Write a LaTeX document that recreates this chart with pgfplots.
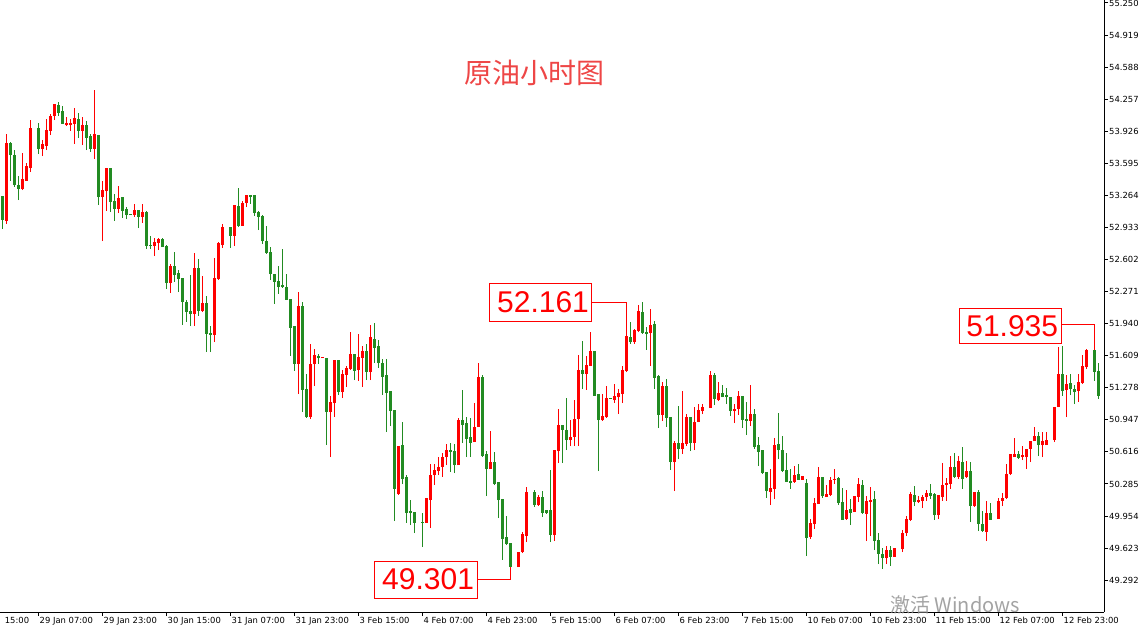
\documentclass[border=0pt]{standalone}
\usepackage{pgfplots}
\pgfplotsset{compat=1.18}
\usepackage{pgfplotstable}
\usepackage{fontspec}
\newfontfamily\tickfont{DejaVu Sans}
\newfontfamily\arial{Liberation Sans}
\newfontfamily\cjk{Noto Sans CJK SC}
\definecolor{upred}{RGB}{255,0,0}
\definecolor{dngreen}{RGB}{34,139,34}
\definecolor{titlered}{RGB}{238,70,70}

\pgfplotstableread{
x o h l c
0 53.257 53.257 52.917 53.010
1 53.003 53.898 52.969 53.805
2 53.805 53.815 53.413 53.680
3 53.680 53.732 53.351 53.371
4 53.371 53.464 53.216 53.330
5 53.330 53.701 53.319 53.433
6 53.413 53.598 53.413 53.567
7 53.546 54.042 53.505 53.959
9 53.959 54.011 53.691 53.743
10 53.743 53.836 53.670 53.795
11 53.774 54.052 53.732 53.939
12 53.929 54.104 53.887 54.083
13 54.083 54.208 54.042 54.208
14 54.197 54.228 54.083 54.114
15 54.135 54.187 54.001 54.001
16 53.990 54.073 53.980 54.011
17 53.990 54.052 53.929 54.011
18 54.001 54.166 53.795 54.062
19 54.052 54.114 53.857 53.929
20 53.929 54.073 53.784 53.990
21 53.990 54.032 53.732 53.857
22 53.877 53.898 53.712 53.743
23 53.743 54.352 53.639 53.898
24 53.887 53.887 53.164 53.247
25 53.247 53.413 52.793 53.319
26 53.309 53.546 53.103 53.546
27 53.546 53.546 53.092 53.195
28 53.206 53.278 53.000 53.123
29 53.123 53.361 53.082 53.237
30 53.247 53.247 53.031 53.103
31 53.123 53.144 53.020 53.061
32 53.072 53.072 53.061 53.061
33 53.061 53.175 53.041 53.113
34 53.113 53.113 52.927 53.041
35 53.041 53.175 52.979 53.092
36 53.092 53.103 52.710 52.741
37 52.751 52.845 52.710 52.741
38 52.741 52.824 52.638 52.783
39 52.772 52.824 52.700 52.814
40 52.814 52.824 52.731 52.731
41 52.741 52.751 52.297 52.359
42 52.359 52.556 52.256 52.535
43 52.535 52.680 52.370 52.442
44 52.463 52.494 52.266 52.401
45 52.411 52.411 51.926 52.163
46 52.163 52.184 51.957 52.060
47 52.070 52.442 51.915 52.039
48 52.039 52.669 51.915 52.514
49 52.514 52.607 52.019 52.070
50 52.070 52.432 52.060 52.153
51 52.153 52.225 51.647 51.833
52 51.843 51.915 51.647 51.823
53 51.823 52.617 51.750 52.411
54 52.401 52.783 52.390 52.772
55 52.751 52.969 52.721 52.937
57 52.937 52.937 52.721 52.845
58 52.845 53.164 52.741 53.164
59 53.154 53.340 52.937 52.948
60 52.948 53.206 52.948 53.185
61 53.185 53.268 53.144 53.268
62 53.268 53.268 53.175 53.247
63 53.268 53.268 53.051 53.082
64 53.092 53.103 52.906 53.041
65 53.051 53.061 52.762 52.793
66 52.793 52.948 52.659 52.669
67 52.680 52.731 52.390 52.452
68 52.452 52.452 52.143 52.370
69 52.380 52.535 52.246 52.318
70 52.339 52.710 52.308 52.318
71 52.318 52.452 52.184 52.184
72 52.194 52.194 51.606 51.895
73 51.915 51.915 51.451 51.523
74 51.523 52.266 51.213 52.122
75 52.122 52.163 51.027 51.255
76 51.265 51.420 50.966 50.976
77 50.976 51.730 50.955 51.523
78 51.523 51.678 51.296 51.616
79 51.606 51.626 51.523 51.585
80 51.585 51.595 51.585 51.595
81 51.585 51.585 50.687 51.027
82 51.027 51.193 50.563 51.131
83 51.120 51.564 50.976 51.564
84 51.564 51.564 51.203 51.234
85 51.234 51.461 51.172 51.420
86 51.410 51.502 51.286 51.482
87 51.471 51.853 51.461 51.626
88 51.626 51.626 51.358 51.451
89 51.461 51.833 51.348 51.595
90 51.585 51.709 51.286 51.657
91 51.657 51.730 51.358 51.440
92 51.440 51.926 51.358 51.802
93 51.781 51.946 51.533 51.688
94 51.709 51.771 51.482 51.533
95 51.533 51.575 51.203 51.389
96 51.410 51.575 50.821 51.224
97 51.244 51.244 50.883 51.038
98 51.048 51.048 49.902 50.233
99 50.181 50.677 50.171 50.677
100 50.687 50.924 50.284 50.336
101 50.357 50.377 49.882 49.985
102 50.006 50.119 49.861 49.985
103 49.995 49.995 49.778 49.882
105 49.892 49.985 49.634 49.882
106 49.882 50.140 49.882 50.140
107 50.119 50.491 49.830 50.377
108 50.377 50.491 50.274 50.429
109 50.418 50.563 50.377 50.460
110 50.460 50.604 50.357 50.563
111 50.563 50.697 50.480 50.635
112 50.635 50.707 50.408 50.615
113 50.625 50.697 50.398 50.480
114 50.480 50.966 50.480 50.945
115 50.945 51.255 50.707 50.893
116 50.914 50.976 50.563 50.749
117 50.769 50.966 50.563 50.707
118 50.718 51.120 50.718 50.873
119 50.873 51.533 50.873 51.389
120 51.389 51.410 50.563 50.573
121 50.594 50.625 50.160 50.439
122 50.439 50.831 50.439 50.511
123 50.511 50.615 50.274 50.284
124 50.305 50.305 49.933 50.119
125 50.129 50.129 49.500 49.716
126 49.737 49.954 49.654 49.665
127 49.675 49.675 49.301 49.427
129 49.427 49.582 49.427 49.582
130 49.582 49.789 49.572 49.768
131 49.747 50.253 49.685 50.202
133 50.202 50.222 50.047 50.067
134 50.067 50.171 50.057 50.150
135 50.150 50.212 49.943 49.985
136 50.016 50.016 49.975 49.985
137 50.016 50.429 49.685 49.758
138 49.758 50.635 49.696 50.635
139 50.625 51.058 50.501 50.893
140 50.893 50.893 50.501 50.842
141 50.842 51.172 50.635 50.738
142 50.738 50.945 50.676 50.769
143 50.769 51.151 50.676 50.955
144 50.955 51.616 50.676 51.461
145 51.461 51.761 51.265 51.420
146 51.420 51.606 51.255 51.513
147 51.502 51.853 51.502 51.657
148 51.657 51.657 51.193 51.193
149 51.213 51.213 50.418 50.945
150 50.945 51.213 50.935 50.986
151 50.976 51.296 50.966 51.172
152 51.172 51.172 51.162 51.162
153 51.151 51.317 51.120 51.193
154 51.182 51.265 51.007 51.224
155 51.213 51.502 51.120 51.461
156 51.451 51.812 51.440 51.812
157 51.802 51.957 51.730 51.750
158 51.750 51.884 51.730 51.874
159 51.864 52.132 51.853 52.070
160 52.060 52.161 51.833 51.843
161 51.853 51.905 51.668 51.833
162 51.843 52.091 51.502 51.926
163 51.936 51.967 51.265 51.379
164 51.399 51.410 50.862 50.997
165 50.997 51.337 50.935 51.296
166 51.296 51.368 50.873 50.966
167 50.976 50.976 50.429 50.511
168 50.511 50.728 50.212 50.707
169 50.707 51.089 50.542 50.646
170 50.646 51.244 50.594 50.707
171 50.697 51.007 50.677 50.976
172 50.976 50.976 50.625 50.707
173 50.707 51.079 50.635 50.924
174 50.924 51.110 50.924 51.048
175 51.038 51.110 51.007 51.079
177 51.069 51.451 51.069 51.410
178 51.410 51.430 51.100 51.162
179 51.151 51.337 51.141 51.224
180 51.224 51.306 51.182 51.182
181 51.203 51.275 51.110 51.182
182 51.182 51.182 50.986 51.038
183 51.038 51.110 50.914 51.058
184 51.058 51.244 50.997 51.193
185 51.193 51.193 50.862 50.945
186 50.955 51.131 50.790 50.935
187 50.935 51.306 50.883 51.007
188 51.007 51.058 50.646 50.666
189 50.687 50.769 50.470 50.615
190 50.635 50.635 50.387 50.398
191 50.408 50.408 50.140 50.212
192 50.202 50.439 50.067 50.243
193 50.233 50.759 50.129 50.687
194 50.697 51.017 50.542 50.635
195 50.635 50.780 50.408 50.418
196 50.429 50.604 50.305 50.305
197 50.315 50.439 50.233 50.295
198 50.305 50.470 50.295 50.377
199 50.387 50.491 50.326 50.326
200 50.326 50.367 50.326 50.367
201 50.295 50.336 49.541 49.727
202 49.737 49.923 49.716 49.882
203 49.871 50.140 49.820 50.088
204 50.078 50.460 50.078 50.357
205 50.357 50.357 50.140 50.160
206 50.150 50.274 50.150 50.181
207 50.171 50.357 50.160 50.326
208 50.326 50.439 50.284 50.336
209 50.346 50.357 50.067 50.088
210 50.098 50.243 49.913 49.913
211 49.923 50.222 49.913 50.016
212 50.026 50.129 49.861 49.985
213 49.995 50.160 49.995 50.160
214 50.150 50.346 50.098 50.284
215 50.274 50.326 49.975 49.985
216 49.975 50.160 49.696 50.109
217 50.098 50.253 49.747 50.119
218 50.129 50.212 49.603 49.696
219 49.706 49.778 49.458 49.562
220 49.562 49.623 49.407 49.520
221 49.520 49.644 49.458 49.603
222 49.603 49.644 49.438 49.531
223 49.531 49.623 49.531 49.623
225 49.613 49.809 49.582 49.778
226 49.778 49.954 49.747 49.923
227 49.913 50.202 49.902 50.181
228 50.171 50.264 50.057 50.098
229 50.098 50.160 50.088 50.119
230 50.109 50.171 50.036 50.150
231 50.150 50.222 50.109 50.191
232 50.191 50.284 50.129 50.160
233 50.181 50.191 49.913 49.964
234 49.964 50.171 49.923 50.171
235 50.150 50.501 50.109 50.274
236 50.274 50.346 50.109 50.295
237 50.284 50.573 50.233 50.460
238 50.460 50.604 50.346 50.357
239 50.357 50.573 50.336 50.522
240 50.511 50.666 50.233 50.336
241 50.357 50.522 50.346 50.418
242 50.418 50.511 49.892 50.057
243 50.057 50.202 50.047 50.202
244 50.202 50.222 49.799 49.871
245 49.871 50.006 49.789 49.799
246 49.789 50.109 49.696 49.985
247 49.985 50.088 49.913 49.913
249 49.923 50.140 49.923 50.109
250 50.109 50.191 50.057 50.140
251 50.140 50.491 50.129 50.387
252 50.387 50.594 50.377 50.594
253 50.563 50.759 50.563 50.594
254 50.594 50.625 50.542 50.553
255 50.563 50.677 50.532 50.584
256 50.563 50.646 50.439 50.646
257 50.646 50.728 50.511 50.728
258 50.728 50.873 50.728 50.780
259 50.780 50.821 50.573 50.687
260 50.687 50.821 50.563 50.728
261 50.687 50.821 50.687 50.738
263 50.738 51.079 50.718 51.079
264 51.079 51.699 51.079 51.420
265 51.420 51.709 51.193 51.244
266 51.255 51.410 50.976 51.317
267 51.327 51.420 51.203 51.265
268 51.265 51.306 51.110 51.234
269 51.244 51.420 51.131 51.337
270 51.327 51.616 51.317 51.502
271 51.492 51.678 51.471 51.668
273 51.668 51.935 51.348 51.440
274 51.451 51.533 51.162 51.193
}\candles

\begin{document}
\begin{tikzpicture}
\begin{axis}[
  name=ax, at={(0,0)}, anchor=south west,
  scale only axis, width=1104pt, height=612pt,
  xmin=-0.625, xmax=275.375, ymin=48.963, ymax=55.281,
  axis x line=bottom, axis y line=right,
  axis line style={-, black, line width=1pt},
  x axis line style={-}, y axis line style={-},
  tick align=outside, major tick length=4pt,
  tick style={black, line width=1pt},
  xtick={9,25,41,57,73,89,105,121,137,153,169,185,201,217,233,249,265},
  xticklabels={29 Jan 07:00,29 Jan 23:00,30 Jan 15:00,31 Jan 07:00,31 Jan 23:00,3 Feb 15:00,4 Feb 07:00,4 Feb 23:00,5 Feb 15:00,6 Feb 07:00,6 Feb 23:00,7 Feb 15:00,10 Feb 07:00,10 Feb 23:00,11 Feb 15:00,12 Feb 07:00,12 Feb 23:00},
  extra x ticks={0.3}, extra x tick labels={15:00},
  extra x tick style={tick style={draw=none}},
  ytick={49.292,49.623,49.954,50.285,50.616,50.947,51.278,51.609,51.940,52.271,52.602,52.933,53.264,53.595,53.926,54.257,54.588,54.919,55.250},
  yticklabels={49.292,49.623,49.954,50.285,50.616,50.947,51.278,51.609,51.940,52.271,52.602,52.933,53.264,53.595,53.926,54.257,54.588,54.919,55.250},
  ticklabel style={font=\tickfont\fontsize{8.4}{10}\selectfont},
  xticklabel style={anchor=north west, inner sep=0pt, xshift=1pt, yshift=-1pt},
  yticklabel style={anchor=west, inner sep=0pt, xshift=1pt},
  clip=false,
]
% wicks
\addplot[draw=none, mark=none, forget plot,
  restrict expr to domain={\thisrow{c}-\thisrow{o}}{0.00001:100},
  error bars/.cd, y dir=plus, y explicit, error mark=none,
  error bar style={line width=1pt, draw=upred}]
  table[x=x, y=l, y error plus expr={\thisrow{h}-\thisrow{l}}] {\candles};
\addplot[draw=none, mark=none, forget plot,
  restrict expr to domain={\thisrow{c}-\thisrow{o}}{-100:-0.00001},
  error bars/.cd, y dir=plus, y explicit, error mark=none,
  error bar style={line width=1pt, draw=dngreen}]
  table[x=x, y=l, y error plus expr={\thisrow{h}-\thisrow{l}}] {\candles};
% bodies
\addplot[draw=none, mark=none, forget plot,
  restrict expr to domain={\thisrow{c}-\thisrow{o}}{0.00001:100},
  error bars/.cd, y dir=plus, y explicit, error mark=none,
  error bar style={line width=3pt, draw=upred}]
  table[x=x, y=o, y error plus expr={\thisrow{c}-\thisrow{o}}] {\candles};
\addplot[draw=none, mark=none, forget plot,
  restrict expr to domain={\thisrow{c}-\thisrow{o}}{-100:-0.00001},
  error bars/.cd, y dir=plus, y explicit, error mark=none,
  error bar style={line width=3pt, draw=dngreen}]
  table[x=x, y=c, y error plus expr={\thisrow{o}-\thisrow{c}}] {\candles};

% title
\node[text=titlered, font=\cjk\fontsize{28}{28}\selectfont] at (axis cs:132.9,54.527) {原油小时图};

% annotations
\draw[upred, line width=1pt] (axis cs:147.4,52.163) -| (axis cs:156,51.812);
\node[draw=upred, line width=1pt, fill=white, text=upred, font=\arial\fontsize{30}{30}\selectfont,
  text width=96pt, align=right, inner xsep=3pt, inner ysep=0pt, minimum height=38pt] at (axis cs:134.6,52.163) {52.161};
\draw[upred, line width=1pt] (axis cs:118.6,49.298) -| (axis cs:127,49.427);
\node[draw=upred, line width=1pt, fill=white, text=upred, font=\arial\fontsize{30}{30}\selectfont,
  text width=97pt, align=right, inner xsep=3pt, inner ysep=0pt, minimum height=37pt] at (axis cs:105.75,49.298) {49.301};
\draw[upred, line width=1pt] (axis cs:264.6,51.933) -| (axis cs:273,51.668);
\node[draw=upred, line width=1pt, fill=white, text=upred, font=\arial\fontsize{30}{30}\selectfont,
  text width=96pt, align=right, inner xsep=3pt, inner ysep=0pt, minimum height=35pt] at (axis cs:251.9,51.915) {51.935};

% watermark
\node[anchor=base west, text=black!45, opacity=0.8, font=\cjk\fontsize{20}{20}\selectfont, inner sep=0pt]
  at (axis cs:221.9,48.963) [yshift=0pt] {激活 Windows};
\end{axis}
\pgfresetboundingbox
\path ([yshift=-14pt]ax.south west) rectangle ([xshift=36pt]ax.north east);
\end{tikzpicture}
\end{document}
